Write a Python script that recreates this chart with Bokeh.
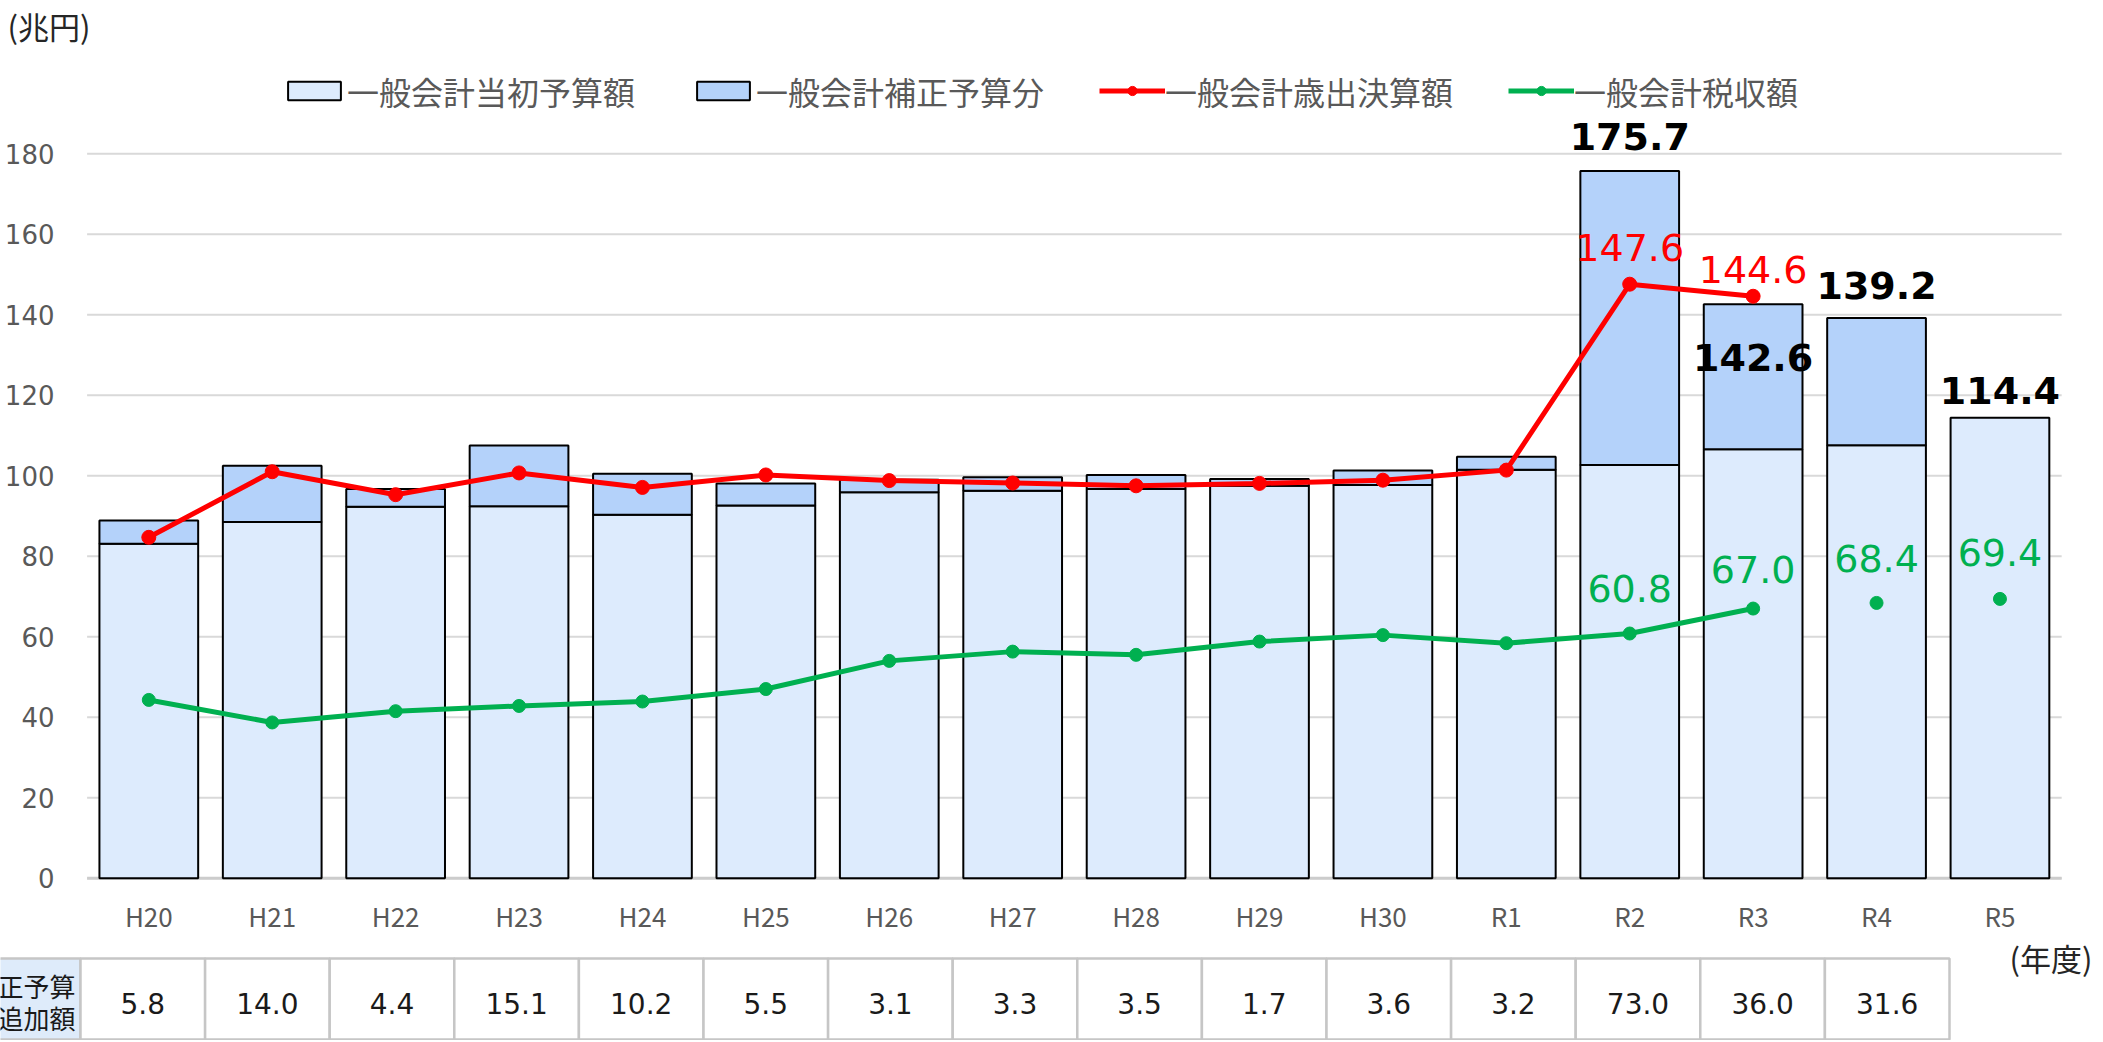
from bokeh.plotting import figure
from bokeh.models import Range1d, Legend, LegendItem, ColumnDataSource
from bokeh.embed import file_html
from bokeh.resources import INLINE
from bokeh.core.properties import value

# ---------------- data ----------------
years = ["H20", "H21", "H22", "H23", "H24", "H25", "H26", "H27",
         "H28", "H29", "H30", "R1", "R2", "R3", "R4", "R5"]
initial_budget = [83.1, 88.5, 92.3, 92.4, 90.3, 92.6, 95.9, 96.3,
                  96.7, 97.5, 97.7, 101.5, 102.7, 106.6, 107.6, 114.4]
supplementary = [5.8, 14.0, 4.4, 15.1, 10.2, 5.5, 3.1, 3.3,
                 3.5, 1.7, 3.6, 3.2, 73.0, 36.0, 31.6]          # H20..R4
settled_expenditure = [84.7, 101.0, 95.3, 100.7, 97.1, 100.2, 98.8,
                       98.2, 97.5, 98.1, 98.9, 101.4, 147.6, 144.6]  # H20..R3
tax_revenue = [44.3, 38.7, 41.5, 42.8, 43.9, 47.0, 54.0,
               56.3, 55.5, 58.8, 60.4, 58.4, 60.8, 67.0]             # H20..R3
tax_revenue_estimate = [68.4, 69.4]                                   # R4, R5
y_ticks = [0, 20, 40, 60, 80, 100, 120, 140, 160, 180]

legend_labels = ["一般会計当初予算額", "一般会計補正予算分", "一般会計歳出決算額", "一般会計税収額"]
unit_label = "(兆円)"
year_label = "(年度)"
table_header = ["補正予算", "追加額"]

total_label_years = ["R2", "R3", "R4", "R5"]
settled_label_years = ["R2", "R3"]
tax_label_years = ["R2", "R3", "R4", "R5"]

# ---------------- style / layout ----------------
W, H = 2100, 1040
N = len(years)
FRAME_L = 86.6          # px from left edge to first category
CAT_PX = 123.41         # px per category
Y0 = 877.7              # px from top to value 0
PX = (877.7 - 153.3) / 180.0   # px per unit (兆円)
XS = -FRAME_L / CAT_PX
XE = (W - FRAME_L) / CAT_PX
T_TOP, T_BOT = 958.0, 1039.0   # table top / bottom (px from top)
T_PX = T_BOT - T_TOP
T_LEFT = 80.0                  # px where the first table column starts
T_COL = 124.6                  # px per table column

LOW_FILL = "#DDEBFD"
UP_FILL = "#B4D2FA"
RED = "#FF0000"
GREEN = "#00B050"
GRID = "#D9D9D9"
TXT = "#595959"
BAR_W = 0.80
JP = "Noto Sans CJK JP"
NUM = "DejaVu Sans"

total_offsets = [-35, 53, -32, -27]
settled_offsets = [-37, -27]
tax_offsets = [-45, -39, -44, -46]
header_offsets = [-13.5, 18.5]

xs = [i + 0.5 for i in range(N)]
idx = {y: i for i, y in enumerate(years)}

p = figure(width=W, height=H, x_range=Range1d(XS, XE),
           y_range=Range1d(-(H - Y0) / PX, Y0 / PX),
           output_backend="svg", toolbar_location=None, title=None,
           min_border_left=0, min_border_right=0, min_border_top=0, min_border_bottom=0)
p.extra_y_ranges = {"table": Range1d(-(H - T_BOT) / T_PX, 1 + T_TOP / T_PX)}
p.extra_x_ranges = {"table": Range1d(-T_LEFT / T_COL, (W - T_LEFT) / T_COL)}
p.axis.visible = False
p.xaxis.visible = False
p.yaxis.visible = False
p.grid.visible = False
p.outline_line_color = None
p.background_fill_color = "white"
p.border_fill_color = "white"

# value axis: gridlines and tick labels
p.segment(x0=[0] * len(y_ticks), x1=[N] * len(y_ticks), y0=y_ticks, y1=y_ticks,
          line_color=GRID, line_width=2)
p.segment(x0=[0], x1=[N], y0=[0], y1=[0], line_color="#CCCCCC", line_width=3)
p.text(x=[0] * len(y_ticks), y=y_ticks, text=[str(t) for t in y_ticks],
       x_offset=-(FRAME_L - 54), text_align="right", text_baseline="middle",
       text_font=value(NUM), text_font_size="26px", text_color=TXT)
# category axis labels
p.text(x=xs, y=[0] * N, text=years, y_offset=37.5, text_align="center",
       text_baseline="middle", text_font=value(JP), text_font_size="26px", text_color=TXT)

# bars
low_src = ColumnDataSource(dict(x=xs, top=initial_budget))
r_low = p.vbar(x="x", top="top", bottom=0, width=BAR_W, source=low_src,
               fill_color=LOW_FILL, line_color="black", line_width=2)
n_sup = len(supplementary)
up_src = ColumnDataSource(dict(x=xs[:n_sup], bottom=initial_budget[:n_sup],
                               top=[a + b for a, b in zip(initial_budget, supplementary)]))
r_up = p.vbar(x="x", top="top", bottom="bottom", width=BAR_W, source=up_src,
              fill_color=UP_FILL, line_color="black", line_width=2)

# lines
n_set = len(settled_expenditure)
r_red_l = p.line(xs[:n_set], settled_expenditure, line_color=RED, line_width=5)
r_red_p = p.scatter(xs[:n_set], settled_expenditure, size=14, marker="circle",
                    fill_color=RED, line_color=RED)
n_tax = len(tax_revenue)
all_tax = tax_revenue + tax_revenue_estimate
r_grn_l = p.line(xs[:n_tax], tax_revenue, line_color=GREEN, line_width=5)
r_grn_p = p.scatter(xs, all_tax, size=13, marker="circle",
                    fill_color=GREEN, line_color=GREEN)

# value labels
totals = [initial_budget[i] + (supplementary[i] if i < n_sup else 0.0) for i in range(N)]
tsrc = ColumnDataSource(dict(
    x=[xs[idx[y]] for y in total_label_years],
    y=[totals[idx[y]] for y in total_label_years],
    text=["%.1f" % totals[idx[y]] for y in total_label_years],
    off=total_offsets))
p.text(x="x", y="y", text="text", y_offset="off", source=tsrc,
       text_font=value(NUM), text_font_style="bold", text_font_size="38px",
       text_color="black", text_align="center", text_baseline="middle")

ssrc = ColumnDataSource(dict(
    x=[xs[idx[y]] for y in settled_label_years],
    y=[settled_expenditure[idx[y]] for y in settled_label_years],
    text=["%.1f" % settled_expenditure[idx[y]] for y in settled_label_years],
    off=settled_offsets))
p.text(x="x", y="y", text="text", y_offset="off", source=ssrc,
       text_font=value(NUM), text_font_size="38px",
       text_color=RED, text_align="center", text_baseline="middle")

gsrc = ColumnDataSource(dict(
    x=[xs[idx[y]] for y in tax_label_years],
    y=[all_tax[idx[y]] for y in tax_label_years],
    text=["%.1f" % all_tax[idx[y]] for y in tax_label_years],
    off=tax_offsets))
p.text(x="x", y="y", text="text", y_offset="off", source=gsrc,
       text_font=value(NUM), text_font_size="38px",
       text_color=GREEN, text_align="center", text_baseline="middle")

# unit label
p.text(x=[XS], y=[Y0 / PX], text=[unit_label], y_offset=24.5, x_offset=7,
       text_align="left", text_baseline="middle",
       text_font=value(JP), text_font_size="31px", text_color="#262626")

# legend
legend = Legend(items=[
    LegendItem(label=legend_labels[0], renderers=[r_low]),
    LegendItem(label=legend_labels[1], renderers=[r_up]),
    LegendItem(label=legend_labels[2], renderers=[r_red_l, r_red_p]),
    LegendItem(label=legend_labels[3], renderers=[r_grn_l, r_grn_p]),
], orientation="horizontal", location=(281, 926.5),
    glyph_width=66, glyph_height=23, label_standoff=0, spacing=55,
    padding=0, margin=0, label_height=30,
    label_text_font=JP, label_text_font_size="32px",
    label_text_color=TXT, border_line_color=None, background_fill_alpha=0)
p.add_layout(legend)

# ---------------- table of supplementary additions ----------------
p.quad(left=[-T_LEFT / T_COL - 1], right=[0], bottom=[0], top=[1], fill_color="#DEEBFA",
       line_color="#C6C6C6", line_width=2.5, x_range_name="table", y_range_name="table")
p.quad(left=list(range(n_sup)), right=[i + 1 for i in range(n_sup)],
       bottom=0, top=1, fill_color="white", line_color="#C6C6C6", line_width=2.5,
       x_range_name="table", y_range_name="table")
p.text(x=[i + 0.5 for i in range(n_sup)], y=[0.5] * n_sup,
       text=["%.1f" % v for v in supplementary], y_offset=4,
       text_font=value(NUM), text_font_size="28px", text_color="#1A1A1A",
       text_align="center", text_baseline="middle",
       x_range_name="table", y_range_name="table")
p.text(x=[0] * len(table_header), y=[0.5] * len(table_header), text=table_header,
       x_offset=-5, y_offset=header_offsets,
       text_font=value(JP), text_font_size="26px", text_color="#1A1A1A",
       text_align="right", text_baseline="middle",
       x_range_name="table", y_range_name="table")
p.text(x=[XE], y=[1], text=[year_label], x_offset=-(W - 2092), y_offset=-1,
       text_font=value(JP), text_font_size="31px", text_color="#262626",
       text_align="right", text_baseline="middle", y_range_name="table")

open("out.html", "w").write(file_html(p, INLINE))
